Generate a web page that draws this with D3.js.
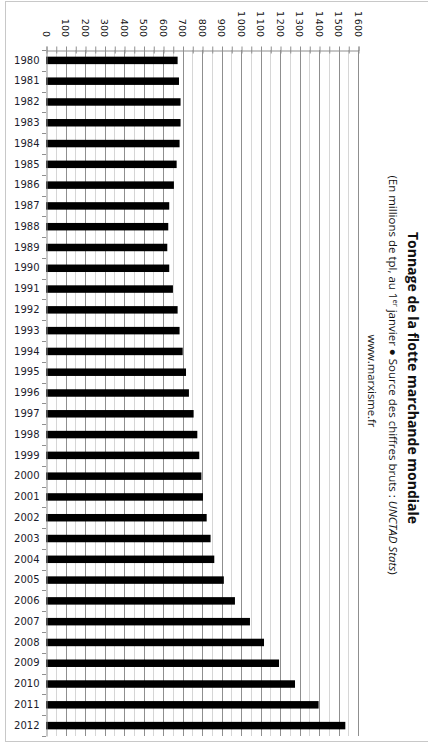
<!DOCTYPE html>
<html><head><meta charset="utf-8">
<script src="https://cdn.jsdelivr.net/npm/d3@7"></script>
<style>
html,body{margin:0;padding:0;background:#fff;}
svg{display:block;}
</style></head>
<body>
<svg id="c" width="428" height="744"></svg>
<script>
const years = ["1980","1981","1982","1983","1984","1985","1986","1987","1988","1989","1990","1991","1992","1993","1994","1995","1996","1997","1998","1999","2000","2001","2002","2003","2004","2005","2006","2007","2008","2009","2010","2011","2012"];
const tonnage = [675,682,690,690,685,670,656,632,627,622,632,651,675,685,701,718,733,757,776,786,797,805,824,844,863,912,969,1046,1118,1195,1277,1398,1535];
const valueTicks = [0,100,200,300,400,500,600,700,800,900,1000,1100,1200,1300,1400,1500,1600];
const title = "Tonnage de la flotte marchande mondiale";
const site = "www.marxisme.fr";

(function(){
const svg = d3.select("#c");
const pL = 46, pR = 358, pT = 50, pB = 736;

// outer frame
svg.append("rect").attr("x",5.5).attr("y",1.5).attr("width",440).attr("height",740)
  .attr("fill","none").attr("stroke","#c8c8c8").attr("stroke-width",1);

const x = d3.scaleLinear().domain([0,1600]).range([pL,pR]);
const y = d3.scaleBand().domain(years).range([pT,pB]).paddingInner(0.64).paddingOuter(0.32);

// gridlines
const minor = d3.range(50,1600,100);
svg.append("g").selectAll("line").data(minor).join("line")
  .attr("x1",d=>Math.round(x(d))+0.5).attr("x2",d=>Math.round(x(d))+0.5)
  .attr("y1",pT).attr("y2",pB).attr("stroke","#d6d6d6");
svg.append("g").selectAll("line").data(valueTicks.slice(1)).join("line")
  .attr("x1",d=>Math.round(x(d))+0.5).attr("x2",d=>Math.round(x(d))+0.5)
  .attr("y1",pT).attr("y2",pB).attr("stroke","#8f8f8f");

// top value axis
const xAxis = d3.axisTop(x).tickValues(d3.range(0,1601,50)).tickSize(4).tickFormat("");
const gx = svg.append("g").attr("transform",`translate(0.5,${pT+0.5})`).call(xAxis);
gx.select(".domain").attr("stroke","#8f8f8f");
gx.selectAll(".tick line").attr("stroke","#8f8f8f").attr("y2",-4).attr("y1",3);
const fmt = v => v>=1000 ? Math.floor(v/1000)+"\u2009"+String(v%1000).padStart(3,"0") : String(v);
svg.append("g").selectAll("text").data(valueTicks).join("text")
  .attr("transform",d=>`translate(${x(d)},37) rotate(90)`)
  .attr("text-anchor","end").attr("dy","0.35em")
  .attr("font-family","DejaVu Sans").attr("font-size",9.5).attr("fill","#111")
  .text(fmt);

// bars
svg.append("g").selectAll("rect").data(years).join("rect")
  .attr("x",x(0)).attr("y",d=>y(d))
  .attr("width",(d,i)=>x(tonnage[i])-x(0)).attr("height",y.bandwidth())
  .attr("fill","#000");

// category axis
const yAxis = d3.axisLeft(y).tickSize(0).tickPadding(7);
const gy = svg.append("g").attr("transform",`translate(${pL+0.5},0)`).call(yAxis);
gy.select(".domain").attr("stroke","#8f8f8f");
gy.selectAll("text").attr("font-family","DejaVu Sans").attr("font-size",10).attr("fill","#1c1c2c");
const step = y.step();
svg.append("g").selectAll("line").data(d3.range(years.length+1)).join("line")
  .attr("x1",pL-4).attr("x2",pL)
  .attr("y1",i=>Math.round(pT+i*step)+0.5).attr("y2",i=>Math.round(pT+i*step)+0.5)
  .attr("stroke","#8f8f8f");

// titles
svg.append("text").attr("transform",`translate(408,378) rotate(90)`)
  .attr("text-anchor","middle").attr("font-family","Open Sans").attr("font-weight","bold")
  .attr("font-size",14).attr("fill","#111").text(title);
const sub = svg.append("text").attr("transform",`translate(389,375) rotate(90)`)
  .attr("text-anchor","middle").attr("font-family","Open Sans")
  .attr("font-size",11.5).attr("fill","#111");
sub.append("tspan").text("(En millions de tpl, au 1");
sub.append("tspan").attr("font-size",7.5).attr("dy",-4).text("er");
sub.append("tspan").attr("dy",4).text(" janvier \u25CF Source des chiffres bruts : ");
sub.append("tspan").attr("font-style","italic").text("UNCTAD Stats");
sub.append("tspan").text(")");
svg.append("text").attr("transform",`translate(368,381) rotate(90)`)
  .attr("text-anchor","middle").attr("font-family","Open Sans")
  .attr("font-size",11.3).attr("fill","#111").text(site);
})();
</script>
</body></html>
